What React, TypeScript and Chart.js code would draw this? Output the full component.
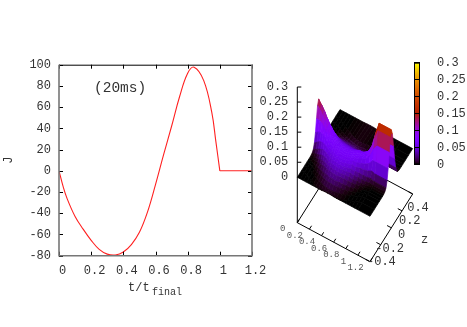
import React, { useEffect, useRef } from "react";
import { Chart, registerables } from "chart.js";

Chart.register(...registerables);

const MONO = "'Liberation Mono', monospace";
const TEXT = "#333333";

// --- left panel: J against t/t_final
const curveT = [0, 0.025, 0.05, 0.1, 0.15, 0.2, 0.25, 0.3, 0.35, 0.4, 0.45, 0.5, 0.55, 0.6, 0.65, 0.7, 0.75, 0.8, 0.84, 0.9, 0.95, 0.975, 1];
const curveJ = [0, -14.5, -26, -43, -55, -65.5, -74, -78.5, -79.3, -76.5, -69.5, -58, -39, -13, 15, 42, 70, 92, 97.7, 85, 55, 28, 0];
const flatT = [1, 1.2];
const flatJ = [0, 0];
const jTicks = [-80, -60, -40, -20, 0, 20, 40, 60, 80, 100];
const tTicks = [0, 0.2, 0.4, 0.6, 0.8, 1, 1.2];
const annotation = "(20ms)";

// --- right panel: surface height; rows are t, columns are distance |z - centre|
const surfT = [0, 0.05, 0.1, 0.15, 0.2, 0.25, 0.3, 0.35, 0.4, 0.45, 0.5, 0.55, 0.6, 0.65, 0.7, 0.75, 0.8, 0.85, 0.9, 0.95, 1, 1.2];
const surfCentre = [0, -0.005, -0.015, -0.03, -0.045, -0.06, -0.075, -0.09, -0.105, -0.115, -0.12, -0.12, -0.11, -0.1, -0.085, -0.07, -0.05, -0.035, -0.02, -0.005, 0, 0];
const surfZ = [0, 0.02, 0.04, 0.06, 0.08, 0.1, 0.12, 0.14, 0.16, 0.19, 0.22, 0.26, 0.32, 0.4];
const surfH = [
  [0.148, 0.132, 0.094, 0.053, 0.024, 0.009, 0.003, 0.001, 0, 0, 0, 0, 0, 0],
  [0.135, 0.124, 0.095, 0.062, 0.034, 0.015, 0.006, 0.002, 0.001, 0, 0, 0, 0, 0],
  [0.122, 0.114, 0.095, 0.069, 0.044, 0.025, 0.012, 0.005, 0.002, 0, 0, 0, 0, 0],
  [0.108, 0.103, 0.09, 0.071, 0.052, 0.034, 0.021, 0.011, 0.006, 0.002, 0, 0, 0, 0],
  [0.095, 0.092, 0.083, 0.071, 0.056, 0.042, 0.029, 0.019, 0.012, 0.005, 0.002, 0, 0, 0],
  [0.083, 0.081, 0.075, 0.066, 0.056, 0.045, 0.034, 0.025, 0.017, 0.009, 0.004, 0.001, 0, 0],
  [0.074, 0.073, 0.069, 0.062, 0.054, 0.046, 0.037, 0.029, 0.022, 0.013, 0.007, 0.003, 0.001, 0],
  [0.066, 0.065, 0.062, 0.057, 0.052, 0.045, 0.038, 0.031, 0.025, 0.016, 0.01, 0.005, 0.001, 0],
  [0.065, 0.064, 0.062, 0.057, 0.053, 0.046, 0.041, 0.035, 0.028, 0.021, 0.013, 0.008, 0.002, 0],
  [0.065, 0.064, 0.062, 0.058, 0.053, 0.049, 0.043, 0.036, 0.03, 0.022, 0.015, 0.009, 0.003, 0.001],
  [0.065, 0.064, 0.063, 0.059, 0.054, 0.05, 0.044, 0.038, 0.031, 0.024, 0.017, 0.009, 0.004, 0.001],
  [0.065, 0.064, 0.062, 0.058, 0.053, 0.049, 0.043, 0.036, 0.03, 0.022, 0.015, 0.009, 0.003, 0.001],
  [0.064, 0.063, 0.061, 0.057, 0.052, 0.046, 0.041, 0.034, 0.028, 0.02, 0.013, 0.007, 0.002, 0],
  [0.066, 0.065, 0.062, 0.057, 0.052, 0.045, 0.038, 0.031, 0.025, 0.016, 0.01, 0.005, 0.001, 0],
  [0.068, 0.067, 0.064, 0.058, 0.051, 0.043, 0.035, 0.027, 0.02, 0.012, 0.006, 0.003, 0.001, 0],
  [0.066, 0.065, 0.06, 0.053, 0.044, 0.036, 0.027, 0.02, 0.014, 0.007, 0.003, 0.001, 0, 0],
  [0.068, 0.066, 0.06, 0.051, 0.041, 0.03, 0.021, 0.014, 0.008, 0.004, 0.001, 0, 0, 0],
  [0.075, 0.071, 0.062, 0.05, 0.036, 0.024, 0.015, 0.008, 0.004, 0.001, 0, 0, 0, 0],
  [0.095, 0.089, 0.074, 0.053, 0.034, 0.019, 0.009, 0.004, 0.001, 0, 0, 0, 0, 0],
  [0.14, 0.128, 0.098, 0.064, 0.035, 0.016, 0.006, 0.002, 0.001, 0, 0, 0, 0, 0],
  [0.175, 0.156, 0.111, 0.063, 0.029, 0.01, 0.003, 0.001, 0, 0, 0, 0, 0, 0],
  [0.175, 0.156, 0.111, 0.063, 0.029, 0.01, 0.003, 0.001, 0, 0, 0, 0, 0, 0],
];
const heightTicks = [0, 0.05, 0.1, 0.15, 0.2, 0.25, 0.3];
const boxTTicks = [0, 0.2, 0.4, 0.6, 0.8, 1, 1.2];
const boxZTicks = [-0.4, -0.2, 0, 0.2, 0.4];
const colorbarTicks = [0, 0.05, 0.1, 0.15, 0.2, 0.25, 0.3];

// --- gnuplot palette (rgbformulae 7,5,15)
function palette(h: number): string {
  const x = Math.max(0, Math.min(1, h / 0.3));
  const r = Math.sqrt(x);
  const g = x * x * x;
  const b = Math.max(0, Math.sin(2 * Math.PI * x));
  return `rgb(${Math.round(r * 255)},${Math.round(g * 255)},${Math.round(b * 255)})`;
}

// --- view of the 3D box, expressed in the panel's x/y scale units
function project(t: number, z: number, h: number) {
  const ft = t / 1.2;
  const fz = (Math.max(-0.4, Math.min(0.4, z)) + 0.4) / 0.8;
  return {
    x: 297.3 + 72.7 * ft + 42.7 * fz,
    y: 177.3 + 39 * ft - 67.7 * fz - (h / 0.3) * 90.3,
  };
}
const FLOOR = -0.1507; // box floor, in height units

function LeftChart() {
  const ref = useRef<HTMLCanvasElement>(null);
  useEffect(() => {
    const labels = {
      id: "labels",
      afterDraw(c: any) {
        const { ctx, scales } = c;
        ctx.save();
        ctx.fillStyle = TEXT;
        ctx.textBaseline = "middle";
        ctx.font = `14.5px ${MONO}`;
        ctx.textAlign = "left";
        ctx.fillText(annotation, 94, scales.y.getPixelForValue(78));
        ctx.font = `12px ${MONO}`;
        ctx.fillText("t/t", 128, 288);
        ctx.font = `10px ${MONO}`;
        ctx.fillText("final", 152, 292);
        ctx.restore();
      },
    };
    const chart = new Chart(ref.current!, {
      type: "line",
      data: {
        datasets: [{
          data: curveT.map((t, i) => ({ x: t, y: curveJ[i] })),
          borderColor: "#ff2020",
          borderWidth: 1.1,
          pointRadius: 0,
          tension: 0.4,
        }, {
          data: flatT.map((t, i) => ({ x: t, y: flatJ[i] })),
          borderColor: "#ff2020",
          borderWidth: 1.1,
          pointRadius: 0,
        }],
      },
      options: {
        animation: false,
        responsive: false,
        layout: { padding: { top: 64.7, right: 28, left: 0, bottom: 0 } },
        plugins: { legend: { display: false }, tooltip: { enabled: false } },
        scales: {
          x: {
            type: "linear", min: 0, max: 1.2,
            afterBuildTicks: (s: any) => { s.ticks = tTicks.map((v) => ({ value: v })); },
            afterFit: (s: any) => { s.height = 71.3; },
            grid: { display: false, drawTicks: false },
            border: { display: false },
            ticks: { color: TEXT, font: { family: MONO, size: 12 }, padding: 8, labelOffset: 3.5, maxRotation: 0, autoSkip: false, callback: (v: any) => String(v) },
          },
          y: {
            type: "linear", min: -80, max: 100,
            afterBuildTicks: (s: any) => { s.ticks = jTicks.map((v) => ({ value: v })); },
            afterFit: (s: any) => { s.width = 59; },
            grid: { display: false, drawTicks: false },
            border: { display: false },
            title: { display: true, text: "J", color: TEXT, font: { family: MONO, size: 12 }, padding: 2 },
            ticks: { color: TEXT, font: { family: MONO, size: 12 }, padding: 8, autoSkip: false, callback: (v: any) => String(v) },
          },
        },
      },
      plugins: [labels, {
        id: "frame",
        afterDatasetsDraw(c: any) {
          const { ctx, chartArea: a, scales } = c;
          ctx.save();
          ctx.strokeStyle = "#000";
          ctx.lineWidth = 1;
          ctx.beginPath();
          ctx.moveTo(a.left, a.top + 0.5); ctx.lineTo(a.right + 0.5, a.top + 0.5);
          tTicks.forEach((v) => {
            const x = Math.round(scales.x.getPixelForValue(v)) + 0.5;
            ctx.moveTo(x, a.bottom); ctx.lineTo(x, a.bottom - 4);
            ctx.moveTo(x, a.top); ctx.lineTo(x, a.top + 4);
          });
          jTicks.forEach((v) => {
            const y = Math.round(scales.y.getPixelForValue(v)) + 0.5;
            ctx.moveTo(a.left, y); ctx.lineTo(a.left + 4, y);
            ctx.moveTo(a.right, y); ctx.lineTo(a.right - 4, y);
          });
          ctx.stroke();
          ctx.strokeStyle = "#777";
          ctx.lineWidth = 1.6;
          ctx.beginPath();
          ctx.moveTo(a.left, a.top); ctx.lineTo(a.left, a.bottom);
          ctx.lineTo(a.right, a.bottom); ctx.lineTo(a.right, a.top);
          ctx.stroke();
          ctx.restore();
        },
      }],
    } as any);
    return () => chart.destroy();
  }, []);
  return <canvas ref={ref} width={280} height={327} style={{ position: "absolute", left: 0, top: 0 }} />;
}

function SurfaceChart() {
  const ref = useRef<HTMLCanvasElement>(null);
  useEffect(() => {
    const datasets: any[] = [];
    const line = (pts: { x: number; y: number }[], color = "#000", width = 1) => {
      datasets.push({ data: pts, showLine: true, borderColor: color, borderWidth: width, pointRadius: 0, fill: false, tension: 0 });
    };
    const floor = (t: number, z: number) => project(t, z, FLOOR);
    // box edges behind the surface
    line([floor(0, 0.4), floor(0, -0.4)]);
    line([floor(0, 0.4), floor(1.2, 0.4)]);
    line([floor(1.2, -0.4), floor(1.2, 0.4)]);
    line([floor(0, -0.4), floor(1.2, -0.4)]);
    line([floor(0, -0.4), project(0, -0.4, 0.3)]);
    boxTTicks.forEach((t) => {
      line([floor(t, -0.4), floor(t, -0.36)]);
    });
    boxZTicks.forEach((z) => {
      line([floor(1.2, z), floor(1.13, z)]);
    });
    heightTicks.forEach((h) => {
      const p = project(0, -0.4, h);
      line([p, { x: p.x + 4, y: p.y }]);
    });
    // signed columns, far (+z) to near (-z)
    const n = surfZ.length;
    const zIdx: number[] = [];
    const zVal: number[] = [];
    for (let k = n - 1; k > 0; k--) { zIdx.push(k); zVal.push(surfZ[k]); }
    for (let k = 0; k < n; k++) { zIdx.push(k); zVal.push(-surfZ[k]); }
    // the outer columns reach past the box so that a shifted centre still covers it
    zVal[0] = 0.6;
    zVal[zVal.length - 1] = -0.6;
    for (let i = 0; i < surfT.length - 1; i++) {
      for (let j = 0; j < zVal.length - 1; j++) {
        const h00 = surfH[i][zIdx[j]], h01 = surfH[i][zIdx[j + 1]];
        const h10 = surfH[i + 1][zIdx[j]], h11 = surfH[i + 1][zIdx[j + 1]];
        const c0 = surfCentre[i], c1 = surfCentre[i + 1];
        const z0 = zVal[j], z1 = zVal[j + 1];
        const color = palette((h00 + h01 + h10 + h11) / 4);
        const pts = [
          project(surfT[i], c0 + z0, h00), project(surfT[i], c0 + z1, h01),
          project(surfT[i + 1], c1 + z1, h11), project(surfT[i + 1], c1 + z0, h10),
          project(surfT[i], c0 + z0, h00),
        ];
        datasets.push({
          data: pts, showLine: true, borderColor: color, backgroundColor: color,
          borderWidth: 0.7, pointRadius: 0, fill: "shape", tension: 0,
        });
      }
    }
    // Chart.js paints the first dataset last, so the far-to-near list is flipped
    datasets.reverse();
    const texts = {
      id: "boxText",
      afterDraw(c: any) {
        const { ctx, scales } = c;
        const px = (p: { x: number; y: number }) => ({ x: scales.x.getPixelForValue(p.x), y: scales.y.getPixelForValue(p.y) });
        ctx.save();
        ctx.fillStyle = TEXT;
        ctx.textBaseline = "middle";
        ctx.font = `12px ${MONO}`;
        ctx.textAlign = "right";
        heightTicks.forEach((h) => {
          const p = px(project(0, -0.4, h));
          ctx.fillText(String(h), p.x - 9, p.y);
        });
        boxZTicks.forEach((z, k) => {
          const label = String(z);
          const w = ctx.measureText("0.4").width;
          const cx = 385 + 8.25 * k;
          const cy = 262 - 13.6 * k;
          ctx.fillText(label, cx + (label === "0" ? 3.6 : w / 2), cy);
        });
        ctx.textAlign = "center";
        ctx.fillText("z", 424.5, 240);
        ctx.font = `9px ${MONO}`;
        ctx.fillStyle = "#555";
        boxTTicks.forEach((t) => {
          const p = px(floor(t, -0.4));
          ctx.fillText(String(t), p.x - 14.5, p.y + 6.4);
        });
        ctx.restore();
      },
    };
    const chart = new Chart(ref.current!, {
      type: "scatter",
      data: { datasets },
      options: {
        animation: false,
        responsive: false,
        layout: { padding: 0 },
        plugins: { legend: { display: false }, tooltip: { enabled: false } },
        scales: {
          x: { type: "linear", min: 0, max: 467, display: false },
          y: { type: "linear", min: 0, max: 327, reverse: true, display: false },
        },
      },
      plugins: [texts],
    } as any);
    return () => chart.destroy();
  }, []);
  return <canvas ref={ref} width={467} height={327} style={{ position: "absolute", left: 0, top: 0 }} />;
}

function ColorBar() {
  const ref = useRef<HTMLCanvasElement>(null);
  useEffect(() => {
    const chart = new Chart(ref.current!, {
      type: "bar",
      data: {
        labels: ["palette"],
        datasets: [{
          data: [[0, 0.3]],
          barPercentage: 1,
          categoryPercentage: 1,
          backgroundColor: (c: any) => {
            const a = c.chart.chartArea;
            if (!a) return "#000";
            const g = c.chart.ctx.createLinearGradient(0, a.bottom, 0, a.top);
            for (let k = 0; k <= 60; k++) g.addColorStop(k / 60, palette((k / 60) * 0.3));
            return g;
          },
        }],
      },
      options: {
        animation: false,
        responsive: false,
        layout: { padding: { left: 14, top: 62.7, bottom: 327 - 164.5, right: 0 } },
        plugins: { legend: { display: false }, tooltip: { enabled: false } },
        scales: {
          x: { display: false },
          y: {
            position: "right", min: 0, max: 0.3,
            afterBuildTicks: (s: any) => { s.ticks = colorbarTicks.map((v) => ({ value: v })); },
            afterFit: (s: any) => { s.width = 47; },
            grid: { color: "#000", z: 1, drawTicks: false },
            border: { display: false },
            ticks: { color: TEXT, font: { family: MONO, size: 12 }, padding: 17, autoSkip: false, callback: (v: any) => String(v) },
          },
        },
      },
      plugins: [{
        id: "frame",
        afterDraw(c: any) {
          const { ctx, chartArea: a } = c;
          ctx.save();
          ctx.strokeStyle = "#000";
          ctx.strokeRect(a.left + 0.5, a.top + 0.5, a.width - 1, a.height - 1);
          ctx.restore();
        },
      }],
    } as any);
    return () => chart.destroy();
  }, []);
  return <canvas ref={ref} width={67} height={327} style={{ position: "absolute", left: 400, top: 0 }} />;
}

export default function App() {
  useEffect(() => { document.body.style.margin = "0"; }, []);
  return (
    <div style={{ position: "fixed", left: 0, top: 0, width: 467, height: 327, background: "#fff", overflow: "hidden", filter: "blur(0.3px)" }}>
      <SurfaceChart />
      <LeftChart />
      <ColorBar />
    </div>
  );
}
